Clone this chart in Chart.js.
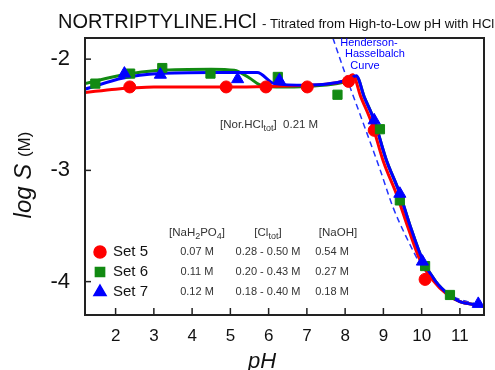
<!DOCTYPE html>
<html>
<head>
<meta charset="utf-8">
<script src="https://cdn.jsdelivr.net/npm/chart.js@4"></script>
<style>
  html, body { margin: 0; padding: 0; background: #fff; }
  canvas { display: block; }
</style>
</head>
<body>
<canvas id="chartCanvas" width="495" height="370"></canvas>
<script>
// --- data ---
const phTicks = [2, 3, 4, 5, 6, 7, 8, 9, 10, 11];
const logTicks = [-4, -3, -2];

// measured points
const set5PH   = [2.37, 4.89, 5.93, 7.01, 8.09, 8.76, 10.09];
const set5LogS = [-2.25, -2.25, -2.25, -2.25, -2.20, -2.64, -3.98];
const set6PH   = [1.47, 2.38, 3.22, 4.48, 6.24, 7.80, 8.91, 9.43, 10.09, 10.74];
const set6LogS = [-2.22, -2.13, -2.08, -2.13, -2.16, -2.32, -2.63, -3.27, -3.86, -4.12];
const set7PH   = [2.23, 3.17, 5.19, 6.28, 8.76, 9.43, 10.02, 11.48];
const set7LogS = [-2.13, -2.14, -2.18, -2.19, -2.55, -3.21, -3.82, -4.20];

// fitted curves
const fit5PH   = [1.2, 2.0, 2.4, 3.0, 5.0, 6.0, 7.0, 7.6, 8.0, 8.2, 8.4, 8.7, 9.0, 9.35, 9.65, 9.95, 10.3, 10.65, 11.0, 11.45];
const fit5LogS = [-2.30, -2.27, -2.26, -2.25, -2.25, -2.245, -2.235, -2.22, -2.19, -2.14, -2.33, -2.58, -2.92, -3.22, -3.52, -3.80, -3.99, -4.11, -4.18, -4.21];
const fit6PH   = [1.2, 2.2, 3.15, 4.5, 5.1, 5.5, 5.76, 6.2, 7.0, 7.8, 8.1, 8.3, 8.5, 8.76, 9.07, 9.42, 9.7, 10.02, 10.37, 10.72, 11.0, 11.48];
const fit6LogS = [-2.22, -2.14, -2.10, -2.09, -2.10, -2.17, -2.23, -2.25, -2.245, -2.22, -2.19, -2.16, -2.34, -2.55, -2.90, -3.20, -3.50, -3.80, -4.00, -4.12, -4.18, -4.21];
const fit7PH   = [1.2, 2.2, 3.15, 4.5, 5.7, 6.15, 7.0, 7.8, 8.1, 8.29, 8.5, 8.76, 9.07, 9.42, 9.7, 10.02, 10.37, 10.72, 11.0, 11.48];
const fit7LogS = [-2.27, -2.17, -2.13, -2.12, -2.12, -2.22, -2.235, -2.21, -2.18, -2.15, -2.34, -2.55, -2.90, -3.20, -3.50, -3.80, -4.00, -4.12, -4.18, -4.21];

// Henderson-Hasselbalch curve
const hhPH   = [7.68, 8.0, 8.5, 8.9, 9.25, 9.6, 10.0, 10.4, 10.8, 11.2, 11.55];
const hhLogS = [-1.81, -2.13, -2.60, -2.98, -3.33, -3.60, -3.86, -4.02, -4.13, -4.18, -4.21];

// legend / table text
const setNames = ["Set 5", "Set 6", "Set 7"];
const phosphate = ["0.07 M", "0.11 M", "0.12 M"];
const chloride = ["0.28 - 0.50 M", "0.20 - 0.43 M", "0.18 - 0.40 M"];
const hydroxide = ["0.54 M", "0.27 M", "0.18 M"];

const RED = "#ff0000", GREEN = "#128a12", BLUE = "#0000ff";

const pts = (xs, ys) => xs.map((x, i) => ({ x, y: ys[i] }));

// draws text pieces, some as subscripts
function richText(ctx, parts, x, y, size, align) {
  const big = `${size}px "Liberation Sans", Arial, sans-serif`;
  const small = `${Math.round(size * 0.8)}px "Liberation Sans", Arial, sans-serif`;
  let w = 0;
  parts.forEach(p => { ctx.font = p.sub ? small : big; w += ctx.measureText(p.t).width; });
  let cx = align === "center" ? x - w / 2 : x;
  ctx.textAlign = "left";
  ctx.textBaseline = "middle";
  parts.forEach(p => {
    ctx.font = p.sub ? small : big;
    ctx.fillText(p.t, cx, p.sub ? y + size * 0.3 : y);
    cx += ctx.measureText(p.t).width;
  });
}

const decor = {
  id: "decor",
  afterDraw(chart) {
    const { ctx, chartArea: a, scales } = chart;
    ctx.save();

    // frame and inward ticks
    ctx.strokeStyle = "#222";
    ctx.lineWidth = 2;
    ctx.strokeRect(a.left, a.top, a.right - a.left, a.bottom - a.top);
    ctx.lineWidth = 1.5;
    phTicks.forEach(v => {
      const px = scales.x.getPixelForValue(v);
      ctx.beginPath(); ctx.moveTo(px, a.bottom); ctx.lineTo(px, a.bottom - 7); ctx.stroke();
    });
    logTicks.forEach(v => {
      const py = scales.y.getPixelForValue(v);
      ctx.beginPath(); ctx.moveTo(a.left, py); ctx.lineTo(a.left + 6, py); ctx.stroke();
    });

    // title
    ctx.fillStyle = "#111";
    ctx.textBaseline = "alphabetic";
    ctx.textAlign = "left";
    ctx.font = '20px "Liberation Sans", Arial, sans-serif';
    ctx.fillText("NORTRIPTYLINE.HCl", 58, 28);
    ctx.font = '13.3px "Liberation Sans", Arial, sans-serif';
    ctx.fillText("- Titrated from High-to-Low pH with HCl", 262, 28);

    // axis titles
    ctx.font = 'italic 22px "Liberation Sans", Arial, sans-serif';
    ctx.textAlign = "center";
    ctx.textBaseline = "middle";
    ctx.fillText("pH", 262, 362);

    ctx.save();
    ctx.translate(24, 175);
    ctx.rotate(-Math.PI / 2);
    ctx.textAlign = "left";
    ctx.font = 'italic 24px "Liberation Sans", Arial, sans-serif';
    const w1 = ctx.measureText("log S ").width;
    ctx.font = '17px "Liberation Sans", Arial, sans-serif';
    const w2 = ctx.measureText("(M)").width;
    let sx = -(w1 + w2) / 2;
    ctx.font = 'italic 24px "Liberation Sans", Arial, sans-serif';
    ctx.fillText("log S ", sx, 0);
    ctx.font = '17px "Liberation Sans", Arial, sans-serif';
    ctx.fillText("(M)", sx + w1, 1);
    ctx.restore();

    // Henderson-Hasselbalch label
    ctx.fillStyle = BLUE;
    ctx.font = '11px "Liberation Sans", Arial, sans-serif';
    ctx.textAlign = "center";
    ctx.fillText("Henderson-", 369, 43);
    ctx.fillText("Hasselbalch", 375, 54);
    ctx.fillText("Curve", 365, 66);

    // concentration note
    ctx.fillStyle = "#333";
    richText(ctx, [{ t: "[Nor.HCl" }, { t: "tot", sub: true }, { t: "]  0.21 M" }], 220, 125, 11.5, "left");

    // table headers
    richText(ctx, [{ t: "[NaH" }, { t: "2", sub: true }, { t: "PO" }, { t: "4", sub: true }, { t: "]" }], 197, 233, 11.5, "center");
    richText(ctx, [{ t: "[Cl" }, { t: "tot", sub: true }, { t: "]" }], 268, 233, 11.5, "center");
    richText(ctx, [{ t: "[NaOH]" }], 338, 233, 11.5, "center");

    // legend rows
    const styles = [
      { pointStyle: "circle", radius: 6, color: RED },
      { pointStyle: "rect", radius: 6.5, color: GREEN },
      { pointStyle: "triangle", radius: 7, color: BLUE }
    ];
    setNames.forEach((name, i) => {
      const ry = 252 + i * 20;
      const s = styles[i];
      ctx.fillStyle = s.color;
      ctx.strokeStyle = s.color;
      Chart.helpers.drawPoint(ctx, { pointStyle: s.pointStyle, radius: s.radius, borderWidth: 1, rotation: 0 }, 100, ry);
      ctx.fillStyle = "#111";
      ctx.font = '15px "Liberation Sans", Arial, sans-serif';
      ctx.textAlign = "left";
      ctx.textBaseline = "middle";
      ctx.fillText(name, 113, ry);
      ctx.fillStyle = "#333";
      richText(ctx, [{ t: phosphate[i] }], 197, ry, 11, "center");
      richText(ctx, [{ t: chloride[i] }], 268, ry, 11, "center");
      richText(ctx, [{ t: hydroxide[i] }], 332, ry, 11, "center");
    });

    ctx.restore();
  }
};

const lineDs = (data, color, order, extra) => Object.assign({
  type: "line",
  data,
  borderColor: color,
  borderWidth: 3,
  pointRadius: 0,
  fill: false,
  tension: 0,
  cubicInterpolationMode: "monotone",
  order
}, extra || {});

const pointDs = (data, color, style, radius, order) => ({
  type: "scatter",
  data,
  pointStyle: style,
  pointRadius: radius,
  pointBackgroundColor: color,
  pointBorderColor: color,
  pointBorderWidth: 1,
  showLine: false,
  order
});

new Chart(document.getElementById("chartCanvas"), {
  type: "scatter",
  data: {
    datasets: [
      pointDs(pts(set7PH, set7LogS), BLUE, "triangle", 7, 0),
      pointDs(pts(set6PH, set6LogS), GREEN, "rect", 6.5, 0),
      pointDs(pts(set5PH, set5LogS), RED, "circle", 6, 0),
      lineDs(pts(fit7PH, fit7LogS), BLUE, 1),
      lineDs(pts(fit5PH, fit5LogS), RED, 2),
      lineDs(pts(fit6PH, fit6LogS), GREEN, 3),
      lineDs(pts(hhPH, hhLogS), "#2233ff", 4, { borderWidth: 1.5, borderDash: [6, 4] })
    ]
  },
  options: {
    responsive: false,
    animation: false,
    devicePixelRatio: 1,
    layout: { padding: { top: 38, right: 11, left: 0, bottom: 0 } },
    plugins: {
      legend: { display: false },
      title: { display: false },
      tooltip: { enabled: false }
    },
    scales: {
      x: {
        type: "linear",
        min: 1.2,
        max: 11.63,
        grid: { display: false },
        border: { display: false },
        afterBuildTicks: s => { s.ticks = phTicks.map(v => ({ value: v })); },
        afterFit: s => { s.height = 55; },
        ticks: {
          color: "#111",
          padding: 3,
          font: { size: 17, family: '"Liberation Sans", Arial, sans-serif' }
        }
      },
      y: {
        type: "linear",
        min: -4.3,
        max: -1.81,
        grid: { display: false },
        border: { display: false },
        afterBuildTicks: s => { s.ticks = logTicks.map(v => ({ value: v })); },
        afterFit: s => { s.width = 85; },
        ticks: {
          color: "#111",
          padding: 7,
          font: { size: 22, family: '"Liberation Sans", Arial, sans-serif' }
        }
      }
    }
  },
  plugins: [decor]
});
</script>
</body>
</html>
